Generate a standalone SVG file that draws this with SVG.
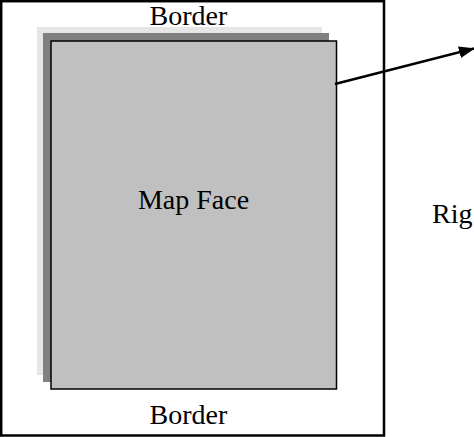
<svg xmlns="http://www.w3.org/2000/svg" width="474" height="437" viewBox="0 0 474 437">
<style>
text{font-family:"Liberation Serif","Times New Roman",serif;font-size:28px;fill:#000}
</style>
<defs>
<marker id="ah" markerWidth="16" markerHeight="12" refX="15" refY="6" orient="auto" markerUnits="userSpaceOnUse">
<path d="M0,0 L16,6 L0,12 Z" fill="#000"/>
</marker>
</defs>
<rect width="474" height="437" fill="#fff"/>
<g id="border">
<rect x="1.2" y="1.2" width="382.8" height="434.3" fill="#fff" stroke="#000" stroke-width="2.5"/>
<text x="188.5" y="24.5" text-anchor="middle">Border</text>
<text x="188.5" y="424" text-anchor="middle">Border</text>
</g>
<g id="shadow-light"><rect x="37" y="27" width="285" height="348" fill="#e6e6e6"/></g>
<g id="shadow-dark"><rect x="43" y="33" width="286" height="349" fill="#808080"/></g>
<g id="map-face">
<rect x="51" y="41" width="285.5" height="348" fill="#c0c0c0" stroke="#000" stroke-width="1.5"/>
<text x="193.5" y="209" text-anchor="middle">Map Face</text>
</g>
<g id="right-label"><text x="432" y="223">Rig</text></g>
<g id="connectors">
<line x1="335" y1="84" x2="474" y2="48.5" stroke="#000" stroke-width="2.5" marker-end="url(#ah)"/>
</g>
</svg>
